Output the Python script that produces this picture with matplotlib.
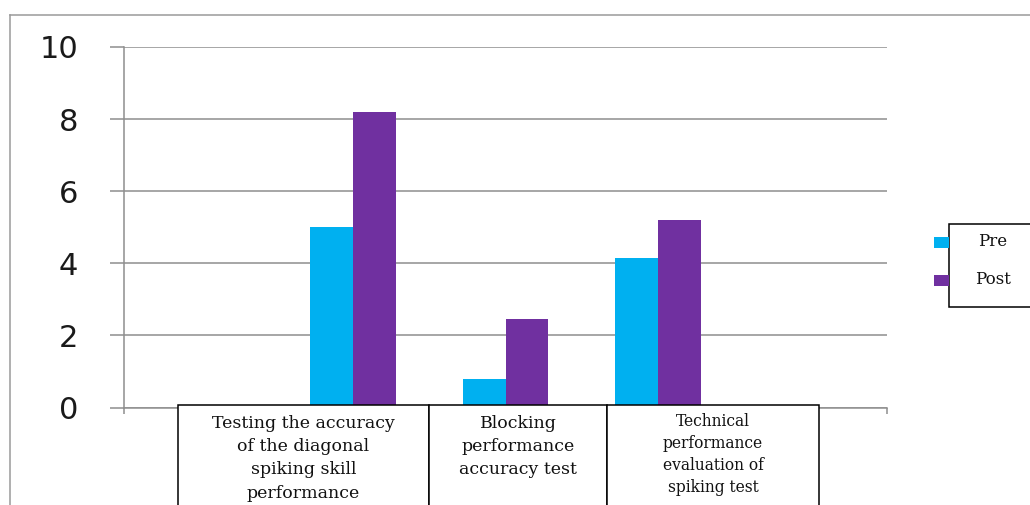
import matplotlib
matplotlib.use("Agg")
import matplotlib.pyplot as plt
from matplotlib.patches import Rectangle
from matplotlib.lines import Line2D
import numpy as np

# ---- data ----
categories = [
    "Testing the accuracy\nof the diagonal\nspiking skill\nperformance",
    "Blocking\nperformance\naccuracy test",
    "Technical\nperformance\nevaluation of\nspiking test",
]
series_names = ["Pre", "Post"]
pre_values = [5.0, 0.8, 4.15]
post_values = [8.2, 2.45, 5.2]
y_ticks = [0, 2, 4, 6, 8, 10]

# ---- style ----
W, H = 1030, 505
PRE_COLOR = "#00B0F0"
POST_COLOR = "#7030A0"
GRID_COLOR = "#8e8e8e"
SERIF = ["DejaVu Serif"]


def fx(px):
    return px / W


def fy(py):
    return 1 - py / H


fig = plt.figure(figsize=(W / 100, H / 100), dpi=100)
fig.patch.set_facecolor("white")

# outer chart frame (top and left edges visible)
fig.add_artist(Line2D([fx(10), 1.0], [fy(15), fy(15)], color="#9a9a9a", lw=1.1))
fig.add_artist(Line2D([fx(10), fx(10)], [fy(15), 0.0], color="#9a9a9a", lw=1.1))

# plot area
ax = fig.add_axes([fx(124), fy(407.5), fx(887) - fx(124), fy(47) - fy(407.5)])
n_slots = 5
slot_pos = np.arange(1, 1 + len(categories))
bar_w = 0.28
ax.bar(slot_pos - bar_w / 2, pre_values, width=bar_w, color=PRE_COLOR, zorder=3)
ax.bar(slot_pos + bar_w / 2, post_values, width=bar_w, color=POST_COLOR, zorder=3)

ax.set_xlim(-0.5, n_slots - 0.5)
ax.set_ylim(0, 10)
ax.set_yticks(y_ticks)
ax.set_yticklabels([str(v) for v in y_ticks], fontsize=22, color="#1a1a1a",
                   family="DejaVu Sans")
ax.set_xticks(np.arange(-0.5, n_slots, 1.0))
ax.set_xticklabels([])
ax.tick_params(axis="y", length=10, width=1.1, color=GRID_COLOR, pad=23, direction="out")
ax.tick_params(axis="x", length=4, width=1.1, color=GRID_COLOR, direction="out")
ax.grid(axis="y", color=GRID_COLOR, lw=1.1, zorder=1)
ax.set_axisbelow(True)
for side in ("top", "right"):
    ax.spines[side].set_visible(False)
for side in ("left", "bottom"):
    ax.spines[side].set_color(GRID_COLOR)
    ax.spines[side].set_linewidth(1.1)

# category label boxes below the axis
cell_edges = [178, 429, 607, 819]
cell_fonts = [12.5, 12.5, 11.2]
cell_line_gap = [23.5, 23.5, 22]
cell_first_line = [423, 423, 421]
for i, label in enumerate(categories):
    x0, x1 = cell_edges[i], cell_edges[i + 1]
    fig.add_artist(Rectangle((fx(x0), fy(520)), fx(x1) - fx(x0), fy(405) - fy(520),
                             facecolor="white", edgecolor="black", lw=1.1,
                             transform=fig.transFigure, zorder=5))
    cx = (x0 + x1) / 2
    for j, line in enumerate(label.split("\n")):
        fig.text(fx(cx), fy(cell_first_line[i] + j * cell_line_gap[i]), line,
                 ha="center", va="center", fontsize=cell_fonts[i],
                 family=SERIF, color="#111111", zorder=6)

# legend
fig.add_artist(Rectangle((fx(949), fy(307)), fx(1040) - fx(949), fy(224) - fy(307),
                         facecolor="white", edgecolor="black", lw=1.1,
                         transform=fig.transFigure, zorder=5))
legend_rows = [242, 280]
for name, color, yc in zip(series_names, [PRE_COLOR, POST_COLOR], legend_rows):
    fig.add_artist(Rectangle((fx(934), fy(yc + 5.5)), fx(949) - fx(934), fy(yc - 5.5) - fy(yc + 5.5),
                             facecolor=color, edgecolor="none",
                             transform=fig.transFigure, zorder=6))
    fig.text(fx(993), fy(yc), name, ha="center", va="center", fontsize=12,
             family=SERIF, color="#111111", zorder=7)

fig.savefig("out.png", dpi=100)
